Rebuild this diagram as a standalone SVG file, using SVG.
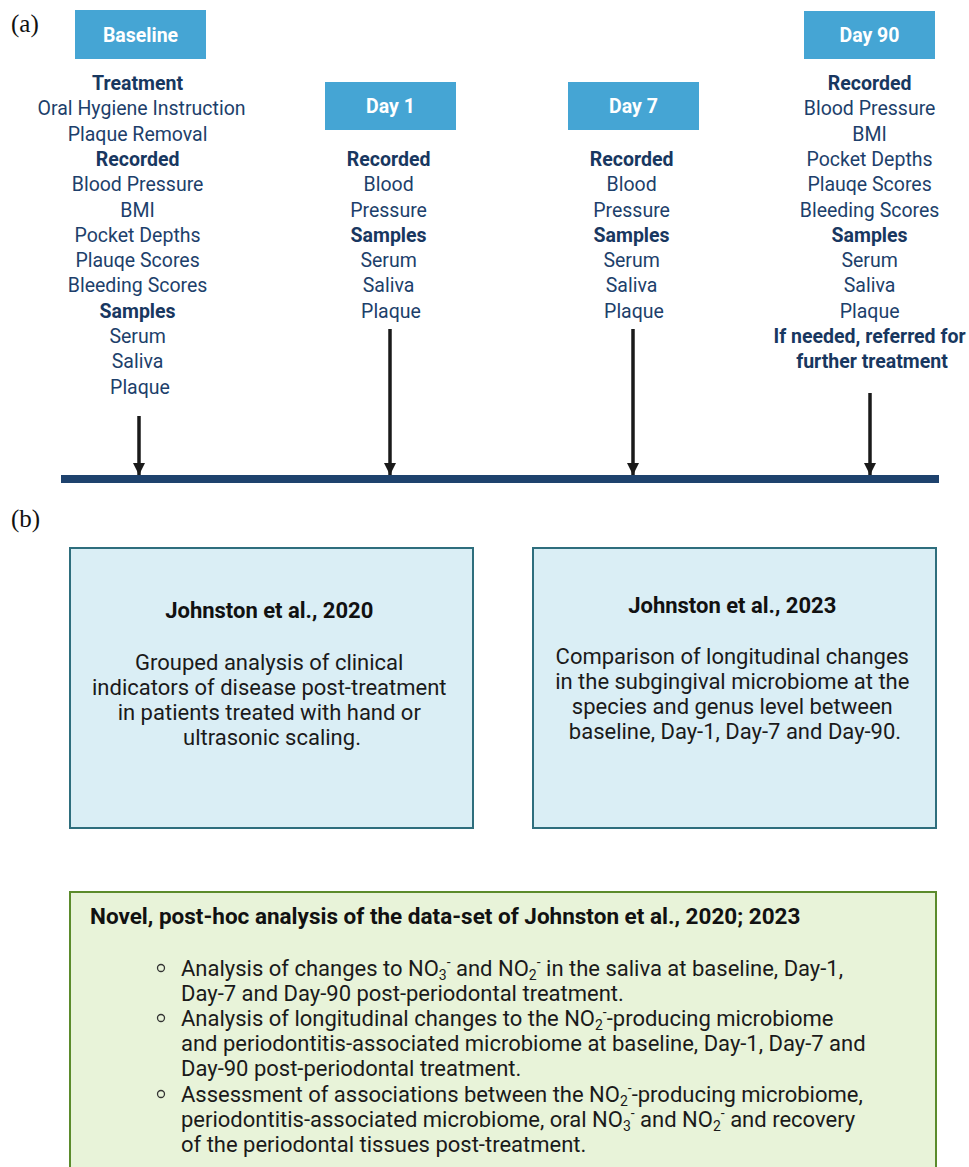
<svg xmlns="http://www.w3.org/2000/svg" width="969" height="1167" viewBox="0 0 969 1167">
<defs>
<style>
.lbl{font-family:"Liberation Serif",serif;font-size:25px;fill:#111}
.hdr{fill:#45a5d4}
.hdrt{font-family:Roboto,"Liberation Sans",sans-serif;font-size:19.5px;font-weight:bold;fill:#fff;text-anchor:middle}
.col{font-family:Roboto,"Liberation Sans",sans-serif;font-size:19.5px;fill:#1d3f6b;text-anchor:middle}
.b{font-weight:bold;fill:#183760}
.arrow{stroke:#1a1a1a;stroke-width:3.5;fill:none}
.box1{fill:#daeef5;stroke:#2e6e7d;stroke-width:2}
.box3{fill:#e8f3d9;stroke:#5b8b2c;stroke-width:2}
.bt{font-family:Roboto,"Liberation Sans",sans-serif;font-size:22px;fill:#1a1a1a;text-anchor:middle}
.bh{font-weight:bold;fill:#111}
.lt{font-family:Roboto,"Liberation Sans",sans-serif;font-size:22px;fill:#1a1a1a}
.ttl{font-family:Roboto,"Liberation Sans",sans-serif;font-size:22.5px;font-weight:bold;fill:#111}
.sub{font-size:14px}
.bul{fill:none;stroke:#333;stroke-width:1.3}
</style>
<marker id="ah" viewBox="0 0 12 12" refX="12" refY="6" markerWidth="12" markerHeight="12" markerUnits="userSpaceOnUse" orient="auto">
<path d="M0,0 L12,6 L0,12 z" fill="#1a1a1a"/>
</marker>
</defs>
<rect width="969" height="1167" fill="#fff"/>
<text class="lbl" x="11" y="32">(a)</text>
<text class="lbl" x="11" y="527">(b)</text>

<rect id="timeline" x="61" y="475" width="878" height="8" fill="#1e426d"/>

<g id="connectors">
<line class="arrow" x1="139" y1="416" x2="139" y2="475" marker-end="url(#ah)"/>
<line class="arrow" x1="390" y1="329" x2="390" y2="475" marker-end="url(#ah)"/>
<line class="arrow" x1="633" y1="329" x2="633" y2="475" marker-end="url(#ah)"/>
<line class="arrow" x1="870" y1="393" x2="870" y2="475" marker-end="url(#ah)"/>
</g>

<g id="baseline">
<rect class="hdr" x="75" y="10" width="131" height="49"/>
<text class="hdrt" x="140.5" y="42">Baseline</text>
<text class="col" x="140">
<tspan class="b" x="140" y="90">Treatment</tspan>
<tspan x="144" y="115.3">Oral Hygiene Instruction</tspan>
<tspan x="140" y="140.6">Plaque Removal</tspan>
<tspan class="b" x="140" y="166">Recorded</tspan>
<tspan x="140" y="191.2">Blood Pressure</tspan>
<tspan x="140" y="216.5">BMI</tspan>
<tspan x="140" y="241.8">Pocket Depths</tspan>
<tspan x="140" y="267">Plauqe Scores</tspan>
<tspan x="140" y="292.4">Bleeding Scores</tspan>
<tspan class="b" x="140" y="317.7">Samples</tspan>
<tspan x="140" y="343">Serum</tspan>
<tspan x="140" y="368.2">Saliva</tspan>
<tspan x="140" y="393.5">Plaque</tspan>
</text>
</g>

<g id="day1">
<rect class="hdr" x="325" y="82" width="131" height="48"/>
<text class="hdrt" x="390.5" y="113">Day 1</text>
<text class="col" x="391">
<tspan class="b" x="391" y="166">Recorded</tspan>
<tspan x="391" y="191.2">Blood</tspan>
<tspan x="391" y="216.5">Pressure</tspan>
<tspan class="b" x="391" y="241.8">Samples</tspan>
<tspan x="391" y="267">Serum</tspan>
<tspan x="391" y="292.4">Saliva</tspan>
<tspan x="391" y="317.7">Plaque</tspan>
</text>
</g>

<g id="day7">
<rect class="hdr" x="568" y="82" width="131" height="48"/>
<text class="hdrt" x="633.5" y="113">Day 7</text>
<text class="col" x="634">
<tspan class="b" x="634" y="166">Recorded</tspan>
<tspan x="634" y="191.2">Blood</tspan>
<tspan x="634" y="216.5">Pressure</tspan>
<tspan class="b" x="634" y="241.8">Samples</tspan>
<tspan x="634" y="267">Serum</tspan>
<tspan x="634" y="292.4">Saliva</tspan>
<tspan x="634" y="317.7">Plaque</tspan>
</text>
</g>

<g id="day90">
<rect class="hdr" x="804" y="11" width="131" height="48"/>
<text class="hdrt" x="869.5" y="42">Day 90</text>
<text class="col" x="872">
<tspan class="b" x="872" y="90">Recorded</tspan>
<tspan x="872" y="115.3">Blood Pressure</tspan>
<tspan x="872" y="140.6">BMI</tspan>
<tspan x="872" y="166">Pocket Depths</tspan>
<tspan x="872" y="191.2">Plauqe Scores</tspan>
<tspan x="872" y="216.5">Bleeding Scores</tspan>
<tspan class="b" x="872" y="241.8">Samples</tspan>
<tspan x="872" y="267">Serum</tspan>
<tspan x="872" y="292.4">Saliva</tspan>
<tspan x="872" y="317.7">Plaque</tspan>
<tspan class="b" x="872" y="343">If needed, referred for</tspan>
<tspan class="b" x="872" y="368.2">further treatment</tspan>
</text>
</g>

<g id="johnston2020">
<rect class="box1" x="70" y="548" width="403" height="280"/>
<text class="bt">
<tspan class="bh" x="272" y="618">Johnston et al., 2020</tspan>
<tspan x="272" y="670">Grouped analysis of clinical</tspan>
<tspan x="272" y="695">indicators of disease post-treatment</tspan>
<tspan x="272" y="720">in patients treated with hand or</tspan>
<tspan x="272" y="745">ultrasonic scaling.</tspan>
</text>
</g>

<g id="johnston2023">
<rect class="box1" x="533" y="548" width="403" height="280"/>
<text class="bt">
<tspan class="bh" x="735" y="613">Johnston et al., 2023</tspan>
<tspan x="735" y="664">Comparison of longitudinal changes</tspan>
<tspan x="735" y="689">in the subgingival microbiome at the</tspan>
<tspan x="735" y="714">species and genus level between</tspan>
<tspan x="735" y="739">baseline, Day-1, Day-7 and Day-90.</tspan>
</text>
</g>

<g id="novel">
<rect class="box3" x="70" y="892" width="866" height="290"/>
<text class="ttl" x="90" y="924">Novel, post-hoc analysis of the data-set of Johnston et al., 2020; 2023</text>
<circle class="bul" cx="161" cy="968" r="3.5"/>
<circle class="bul" cx="161" cy="1018" r="3.5"/>
<circle class="bul" cx="161" cy="1094" r="3.5"/>
<text class="lt">
<tspan x="181" y="976">Analysis of changes to NO</tspan><tspan class="sub" dy="4">3</tspan><tspan class="sub" dy="-13">-</tspan><tspan dy="9"> and NO</tspan><tspan class="sub" dy="4">2</tspan><tspan class="sub" dy="-13">-</tspan><tspan dy="9"> in the saliva at baseline, Day-1,</tspan>
<tspan x="181" y="1001">Day-7 and Day-90 post-periodontal treatment.</tspan>
<tspan x="181" y="1026">Analysis of longitudinal changes to the NO</tspan><tspan class="sub" dy="4">2</tspan><tspan class="sub" dy="-13">-</tspan><tspan dy="9">-producing microbiome</tspan>
<tspan x="181" y="1051">and periodontitis-associated microbiome at baseline, Day-1, Day-7 and</tspan>
<tspan x="181" y="1076">Day-90 post-periodontal treatment.</tspan>
<tspan x="181" y="1102">Assessment of associations between the NO</tspan><tspan class="sub" dy="4">2</tspan><tspan class="sub" dy="-13">-</tspan><tspan dy="9">-producing microbiome,</tspan>
<tspan x="181" y="1127">periodontitis-associated microbiome, oral NO</tspan><tspan class="sub" dy="4">3</tspan><tspan class="sub" dy="-13">-</tspan><tspan dy="9"> and NO</tspan><tspan class="sub" dy="4">2</tspan><tspan class="sub" dy="-13">-</tspan><tspan dy="9"> and recovery</tspan>
<tspan x="181" y="1152">of the periodontal tissues post-treatment.</tspan>
</text>
</g>
</svg>
